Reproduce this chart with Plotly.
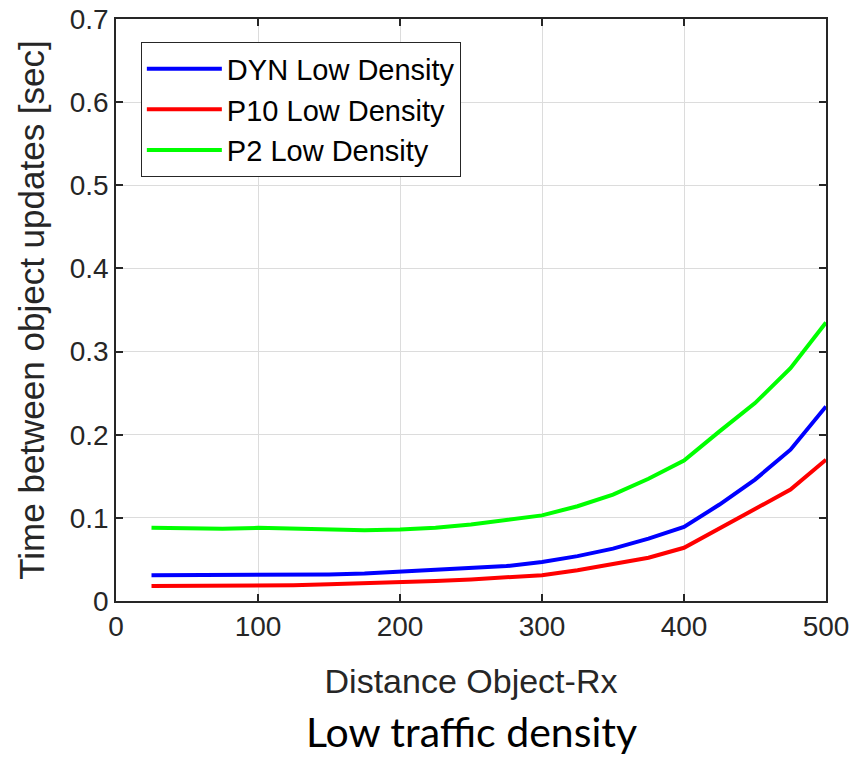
import plotly.graph_objects as go

distance = [25, 50, 75, 100, 125, 150, 175, 200, 225, 250, 275, 300,
            325, 350, 375, 400, 425, 450, 475, 500]
dyn_low = [0.031, 0.031, 0.031, 0.031, 0.032, 0.032, 0.033, 0.035, 0.037, 0.039,
           0.042, 0.047, 0.054, 0.063, 0.075, 0.089, 0.116, 0.146, 0.182, 0.234]
p10_low = [0.018, 0.018, 0.019, 0.019, 0.019, 0.020, 0.021, 0.022, 0.024, 0.026,
           0.028, 0.031, 0.037, 0.044, 0.052, 0.064, 0.087, 0.110, 0.134, 0.170]
p2_low = [0.088, 0.087, 0.087, 0.088, 0.087, 0.086, 0.085, 0.086, 0.088, 0.092,
          0.097, 0.103, 0.114, 0.128, 0.147, 0.169, 0.204, 0.238, 0.280, 0.335]

series = [
    ("DYN Low Density", dyn_low, "#0000ff"),
    ("P10 Low Density", p10_low, "#ff0000"),
    ("P2 Low Density", p2_low, "#00ff00"),
]

fig = go.Figure()
for name, vals, col in series:
    fig.add_trace(go.Scatter(x=distance, y=vals, mode="lines", name=name,
                             line=dict(color=col, width=4)))

axis_common = dict(
    showgrid=True, gridcolor="#dcdcdc", gridwidth=1,
    showline=True, linecolor="#262626", linewidth=1.5, mirror="ticks",
    ticks="inside", ticklen=7, tickcolor="#262626", tickwidth=1.5,
    zeroline=False, automargin=False,
    tickfont=dict(family="Liberation Sans, Arial", size=28, color="#262626"),
)

fig.update_layout(
    width=854, height=761,
    margin=dict(l=116, r=28, t=19, b=160),
    paper_bgcolor="white", plot_bgcolor="white",
    font=dict(family="Liberation Sans, Arial", size=28, color="#262626"),
    xaxis=dict(range=[0, 500], tickmode="array",
               tickvals=[0, 100, 200, 300, 400, 500],
               title=dict(text="Distance Object-Rx", standoff=28,
                          font=dict(size=34, color="#262626")),
               **axis_common),
    yaxis=dict(range=[0, 0.7], tickmode="array",
               tickvals=[0, 0.1, 0.2, 0.3, 0.4, 0.5, 0.6, 0.7],
               ticktext=["0", "0.1", "0.2", "0.3", "0.4", "0.5", "0.6", "0.7"],
               title=dict(text="Time between object updates [sec]", standoff=14,
                          font=dict(size=35, color="#262626")),
               **axis_common),
    legend=dict(x=0.035, y=0.96, xanchor="left", yanchor="top",
                bgcolor="white", bordercolor="#262626", borderwidth=1,
                font=dict(family="Liberation Sans, Arial", size=29, color="black"),
                itemwidth=75, tracegroupgap=0),
    showlegend=True,
    annotations=[dict(text="Low traffic density", xref="paper", yref="paper",
                      x=0.5, y=-0.178, xanchor="center", yanchor="top",
                      showarrow=False,
                      font=dict(family="Lato, Open Sans", size=41, color="black"))],
)

fig.write_html("out.html")
